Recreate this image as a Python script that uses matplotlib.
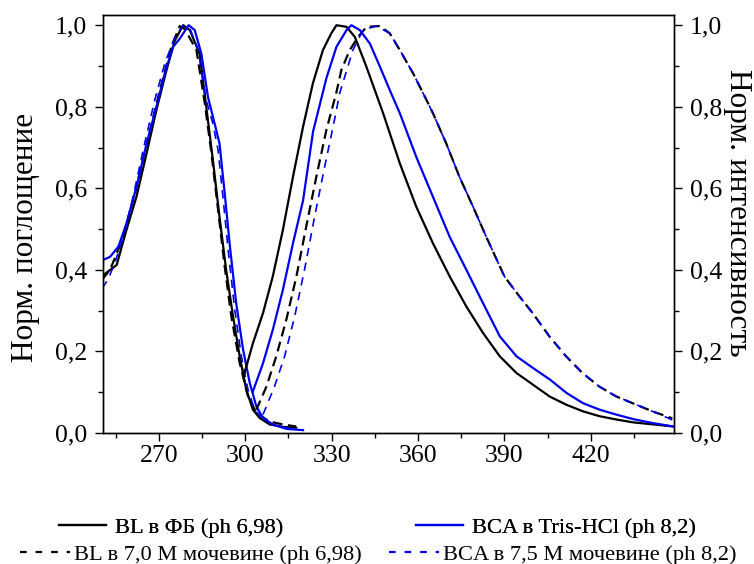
import matplotlib
matplotlib.use("Agg")
import matplotlib.pyplot as plt
from matplotlib.ticker import MultipleLocator, FixedLocator
from matplotlib.lines import Line2D

# ---------------- data ----------------
# Absorption (left axis)
abs_bl_x = [250.3, 252.4, 255.4, 258.8, 262.3, 265.8, 269.2, 272.7, 275.6, 278.5, 280.8,
            284.2, 286.5, 288.8, 291.1, 293.4, 295.8, 298.1, 300.4, 302.7, 305.0, 308.5, 313.1, 317.7]
abs_bl_y = [0.384, 0.396, 0.412, 0.498, 0.580, 0.686, 0.792, 0.890, 0.963, 1.000, 0.988,
            0.930, 0.800, 0.670, 0.530, 0.400, 0.286, 0.188, 0.106, 0.057, 0.037, 0.021, 0.015, 0.013]

abs_bl_u_x = [250.3, 253.1, 257.7, 262.3, 266.4, 270.4, 274.4, 277.3, 279.1, 283.1, 286.0,
              288.3, 290.6, 292.9, 295.2, 298.1, 301.0, 303.9, 308.5, 313.1, 317.7]
abs_bl_u_y = [0.376, 0.400, 0.480, 0.604, 0.726, 0.841, 0.947, 0.998, 0.990, 0.939, 0.808,
              0.686, 0.547, 0.408, 0.286, 0.172, 0.090, 0.049, 0.028, 0.021, 0.016]

abs_bca_x = [250.3, 253.1, 256.0, 258.8, 262.3, 265.8, 269.2, 272.1, 275.0, 277.3, 280.4,
             282.5, 284.8, 287.1, 289.4, 291.1, 292.9, 294.6, 296.9, 299.3, 301.6, 303.9,
             306.2, 309.6, 314.3, 320.1]
abs_bca_y = [0.423, 0.432, 0.457, 0.514, 0.604, 0.710, 0.800, 0.882, 0.947, 0.967, 1.000,
             0.988, 0.930, 0.824, 0.759, 0.710, 0.588, 0.465, 0.318, 0.204, 0.123, 0.065,
             0.037, 0.021, 0.010, 0.007]

abs_bca_u_x = [250.3, 252.4, 254.7, 257.7, 261.1, 264.6, 268.6, 272.1, 275.6, 278.5, 280.8,
               283.7, 286.5, 288.8, 290.6, 292.3, 294.1, 296.4, 298.7, 301.0, 303.3, 306.2,
               309.6, 314.3, 317.7]
abs_bca_u_y = [0.355, 0.376, 0.416, 0.480, 0.579, 0.694, 0.816, 0.906, 0.971, 1.000, 0.992,
               0.939, 0.816, 0.759, 0.694, 0.579, 0.449, 0.302, 0.188, 0.106, 0.057, 0.033,
               0.021, 0.013, 0.010]

# Emission (right axis)
em_bl_x = [299.5, 302.7, 306.2, 309.6, 313.1, 316.6, 320.1, 323.5, 327.0, 329.9, 331.7,
           335.2, 338.1, 342.1, 347.9, 353.7, 359.4, 365.2, 371.0, 376.8, 382.6, 388.4,
           394.2, 400.0, 405.8, 411.6, 417.3, 423.1, 428.9, 434.7, 441.7, 448.6]
em_bl_y = [0.140, 0.220, 0.294, 0.384, 0.498, 0.628, 0.751, 0.857, 0.939, 0.980, 1.000,
           0.996, 0.971, 0.898, 0.784, 0.661, 0.555, 0.465, 0.384, 0.310, 0.245, 0.188,
           0.147, 0.118, 0.089, 0.069, 0.053, 0.041, 0.033, 0.026, 0.021, 0.016]

em_bl_u_x = [303.9, 307.4, 310.8, 314.3, 317.8, 321.2, 324.7, 328.2, 331.6, 333.4, 336.3,
             339.2, 342.1, 346.8, 350.2, 353.7, 358.3, 361.8, 365.2, 369.8, 374.4, 379.1,
             383.7, 390.0, 395.2, 399.8, 405.6, 411.4, 417.1, 422.9, 428.7, 434.5, 441.4, 448.3]
em_bl_u_y = [0.057, 0.114, 0.188, 0.278, 0.384, 0.506, 0.628, 0.743, 0.833, 0.890, 0.939,
             0.971, 0.996, 0.998, 0.980, 0.939, 0.882, 0.833, 0.784, 0.710, 0.628, 0.555,
             0.481, 0.384, 0.335, 0.294, 0.237, 0.188, 0.147, 0.114, 0.090, 0.073, 0.053, 0.036]

em_bca_x = [302.7, 306.2, 309.6, 313.1, 316.6, 320.1, 323.6, 328.2, 331.7, 335.2, 336.9,
            339.8, 343.3, 346.8, 350.2, 353.7, 359.4, 365.2, 371.0, 376.8, 382.6, 388.4,
            394.2, 400.0, 405.8, 411.6, 417.3, 423.1, 428.9, 434.7, 441.7, 448.6]
em_bca_y = [0.102, 0.171, 0.253, 0.351, 0.465, 0.570, 0.740, 0.870, 0.947, 0.988, 1.000,
            0.988, 0.955, 0.898, 0.841, 0.784, 0.677, 0.579, 0.481, 0.400, 0.318, 0.237,
            0.188, 0.159, 0.131, 0.098, 0.073, 0.057, 0.045, 0.034, 0.024, 0.016]

em_bca_u_x = [306.2, 310.2, 313.7, 317.2, 320.6, 324.1, 327.6, 331.0, 332.8, 337.4, 340.9,
              345.5, 350.2, 353.7, 358.3, 361.8, 365.2, 369.8, 374.4, 379.1, 383.7, 390.0,
              395.2, 399.8, 405.6, 411.4, 417.1, 422.9, 428.7, 434.5, 441.4, 448.3]
em_bca_u_y = [0.045, 0.114, 0.188, 0.286, 0.400, 0.530, 0.653, 0.767, 0.833, 0.939, 0.988,
              0.998, 0.980, 0.939, 0.882, 0.833, 0.784, 0.710, 0.628, 0.555, 0.481, 0.384,
              0.335, 0.294, 0.237, 0.188, 0.147, 0.114, 0.090, 0.073, 0.053, 0.032]

x_ticks = [270, 300, 330, 360, 390, 420]
y_ticks = [0.0, 0.2, 0.4, 0.6, 0.8, 1.0]
y_tick_labels = ["0,0", "0,2", "0,4", "0,6", "0,8", "1,0"]

label_left = "Норм. поглощение"
label_right = "Норм. интенсивность"
legend_labels = ["BL в ФБ (ph 6,98)", "BL в 7,0 M мочевине (ph 6,98)",
                 "BCA в Tris-HCl (ph 8,2)", "BCA в 7,5 M мочевине (ph 8,2)"]

# ---------------- plot ----------------
plt.rcParams['font.family'] = ['Liberation Serif', 'DejaVu Serif']

fig = plt.figure(figsize=(7.54, 5.64), dpi=100)
ax = fig.add_axes([0.136, 0.2323, 0.7584, 0.7411])
ax2 = ax.twinx()

blue = '#0000ee'
blk_dash = (0, (4.5, 2.5))
blu_dash = (0, (5, 4))

ax.plot(abs_bl_x, abs_bl_y, color='black', lw=1.6)
ax.plot(abs_bl_u_x, abs_bl_u_y, color='black', lw=1.6, ls=blk_dash)
ax.plot(abs_bca_x, abs_bca_y, color=blue, lw=1.6)
ax.plot(abs_bca_u_x, abs_bca_u_y, color=blue, lw=1.2, ls=blu_dash)

ax2.plot(em_bl_x, em_bl_y, color='black', lw=1.6)
ax2.plot(em_bl_u_x, em_bl_u_y, color='black', lw=1.6, ls=blk_dash)
ax2.plot(em_bca_x, em_bca_y, color=blue, lw=1.6)
ax2.plot(em_bca_u_x, em_bca_u_y, color=blue, lw=1.2, ls=blu_dash)

for a in (ax, ax2):
    a.set_xlim(250.5, 449)
    a.set_ylim(0, 1.025)
    a.yaxis.set_major_locator(FixedLocator(y_ticks))
    a.yaxis.set_minor_locator(MultipleLocator(0.1))
    for s in a.spines.values():
        s.set_linewidth(1.0)

ax.set_xticks(x_ticks)
ax.xaxis.set_minor_locator(MultipleLocator(15))
ax.set_yticklabels(y_tick_labels)
ax2.set_yticklabels(y_tick_labels)

ax.tick_params(axis='x', which='major', direction='out', length=6, width=1.0,
               labelsize=18.5, top=False, pad=3)
ax.tick_params(axis='y', which='major', direction='out', length=6, width=1.0,
               labelsize=18.5, right=False, pad=5)
ax.tick_params(axis='both', which='minor', direction='out', length=3.5, width=1.0,
               top=False, right=False)
ax2.tick_params(axis='y', which='major', direction='out', length=6, width=1.0, labelsize=18.5, pad=5)
ax2.tick_params(axis='y', which='minor', direction='out', length=3.5, width=1.0)

ax.set_ylabel(label_left, fontsize=22.5, va='center')
ax.yaxis.set_label_coords(-0.1356, 0.469)
ax2.set_ylabel(label_right, fontsize=22.5, rotation=270, va='center')
ax2.yaxis.set_label_coords(1.111, 0.527)

h1 = Line2D([], [], color='black', lw=1.6)
h2 = Line2D([], [], color='black', lw=1.6, ls=(0, (3, 4)))
h3 = Line2D([], [], color=blue, lw=1.6)
h4 = Line2D([], [], color=blue, lw=1.6, ls=(0, (3, 4)))

leg1 = fig.legend([h1, h3], [legend_labels[0], legend_labels[2]], ncol=2,
                  loc='center', bbox_to_anchor=(0.5, 0.064), frameon=False,
                  fontsize=16.2, handlelength=2.13, handletextpad=0.36, columnspacing=5.9,
                  borderaxespad=0, borderpad=0)
fig.add_artist(leg1)
leg2 = fig.legend([h2, h4], [legend_labels[1], legend_labels[3]], ncol=2,
                  loc='center', bbox_to_anchor=(0.502, 0.016), frameon=False,
                  fontsize=16.2, handlelength=2.2, handletextpad=0.2, columnspacing=1.2,
                  borderaxespad=0, borderpad=0)

fig.savefig('out.png', dpi=100)
